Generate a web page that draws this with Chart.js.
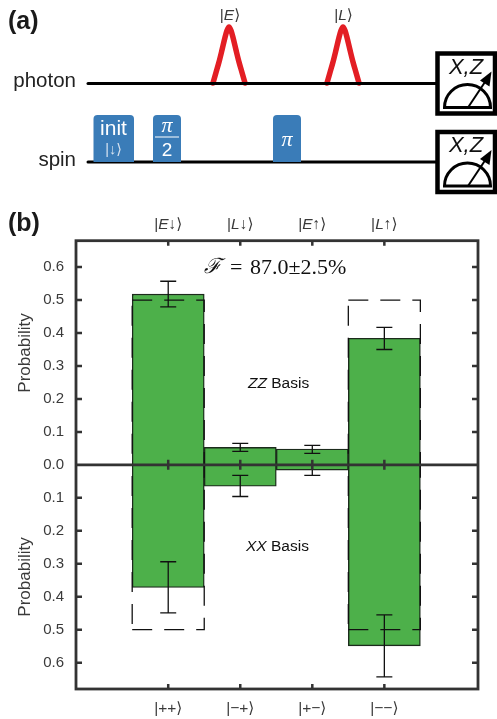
<!DOCTYPE html>
<html lang="en">
<head>
  <meta charset="UTF-8">
  <title>Spin-photon state probabilities</title>
  <script src="https://cdn.jsdelivr.net/npm/chart.js"></script>
  <style>
    html, body { margin: 0; padding: 0; background: #fff; overflow: hidden; }
    canvas { position: absolute; left: 0; display: block; }
    #panelA { top: 0; }
    #panelB { top: 210px; }
  </style>
</head>
<body>
<canvas id="panelA" width="497" height="210"></canvas>
<canvas id="panelB" width="497" height="509"></canvas>

<script>
  const sans = '"Liberation Sans", "DejaVu Sans", sans-serif';
  const serif = '"Liberation Serif", "DejaVu Serif", serif';

  // panel (b) values
  const positions = [1, 2, 3, 4];
  const topLabels = [['|', 'E', '↓⟩'], ['|', 'L', '↓⟩'], ['|', 'E', '↑⟩'], ['|', 'L', '↑⟩']];
  const bottomLabels = ['|++⟩', '|−+⟩', '|+−⟩', '|−−⟩'];
  const yTicks = [-0.6, -0.5, -0.4, -0.3, -0.2, -0.1, 0, 0.1, 0.2, 0.3, 0.4, 0.5, 0.6];
  const zzValues = [0.518, 0.053, 0.048, 0.384];
  const zzErrHigh = [0.557, 0.065, 0.059, 0.417];
  const zzErrLow = [0.479, 0.041, 0.035, 0.350];
  const zzIdeal = [0.5, 0, 0, 0.5];
  const xxValues = [0.372, 0.065, 0.016, 0.549];
  const xxErrHigh = [0.449, 0.096, 0.032, 0.643];
  const xxErrLow = [0.294, 0.032, 0.000, 0.455];
  const xxIdeal = [0.5, 0, 0, 0.5];

  // panel (a) sequence, axes are just the picture's own units
  const wireYs = [83.5, 162];
  const wireStart = 88;
  const wireEnd = 437;
  const pulseEx = [213, 216, 219, 222, 225, 227, 229, 231, 233, 236, 239, 242, 245];
  const pulseLx = [327, 330, 333, 336, 339, 341, 343, 345, 347, 350, 353, 356, 359];
  const pulseY = [83, 72.5, 62, 50, 37.5, 30.5, 27, 30.5, 37.5, 50, 62, 72.5, 83];
  const gateLeft = [93.5, 153, 273];
  const gateRight = [134, 181, 301];
  const gateTop = 115;
  const meterTop = [53.5, 132];

  function drawRuns(ctx, runs, cx, y, size, color) {
    const fonts = runs.map((r, i) => (i === 1 ? 'italic ' : '') + size + 'px ' + sans);
    let total = 0;
    runs.forEach((r, i) => { ctx.font = fonts[i]; total += ctx.measureText(r).width; });
    let x = cx - total / 2;
    ctx.fillStyle = color;
    ctx.textAlign = 'left';
    ctx.textBaseline = 'middle';
    runs.forEach((r, i) => {
      ctx.font = fonts[i];
      ctx.fillText(r, x, y);
      x += ctx.measureText(r).width;
    });
  }

  function text(ctx, str, x, y, font, color, align) {
    ctx.font = font;
    ctx.fillStyle = color || '#000';
    ctx.textAlign = align || 'center';
    ctx.textBaseline = 'middle';
    ctx.fillText(str, x, y);
  }

  const sequencePlugin = {
    id: 'sequence',
    afterDatasetsDraw(chart) {
      const ctx = chart.ctx;
      const sx = v => chart.scales.x.getPixelForValue(v);
      const sy = v => chart.scales.y.getPixelForValue(v);
      ctx.save();

      text(ctx, '(a)', 8, 22, 'bold 25px ' + sans, '#1a1a1a', 'left');
      text(ctx, 'photon', 76, 81, '20.5px ' + sans, '#222', 'right');
      text(ctx, 'spin', 76, 160, '20.5px ' + sans, '#222', 'right');
      drawRuns(ctx, ['|', 'E', '⟩'], sx(230), sy(15.5), 15.5, '#3a3a3a');
      drawRuns(ctx, ['|', 'L', '⟩'], sx(343.5), sy(15.5), 15.5, '#3a3a3a');

      // gates
      gateLeft.forEach((l, i) => {
        ctx.fillStyle = '#3a7cb8';
        ctx.beginPath();
        ctx.roundRect(sx(l), sy(gateTop), sx(gateRight[i]) - sx(l), sy(wireYs[1]) - sy(gateTop), [4, 4, 0, 0]);
        ctx.fill();
      });
      text(ctx, 'init', 113.5, 129, '21px ' + sans, '#fff');
      text(ctx, '|↓⟩', 113.5, 150, '14.5px ' + sans, '#d5e2ef');
      text(ctx, 'π', 167, 126.5, 'italic 22px ' + serif, '#fff');
      ctx.fillStyle = '#fff';
      ctx.fillRect(155, 136.5, 24, 1);
      text(ctx, '2', 167, 151, '19px ' + sans, '#fff');
      text(ctx, 'π', 287, 140, 'italic 22px ' + serif, '#fff');

      // measurement boxes
      meterTop.forEach(t => {
        ctx.fillStyle = '#fff';
        ctx.strokeStyle = '#000';
        ctx.lineWidth = 4.5;
        ctx.fillRect(437.5, t, 57.5, 60);
        ctx.strokeRect(437.5, t, 57.5, 60);
        text(ctx, 'X,Z', 466, t + 14, 'italic 22px ' + sans, '#111');
        ctx.lineWidth = 3;
        ctx.beginPath();
        ctx.arc(467.5, t + 54, 23, Math.PI, 0);
        ctx.closePath();
        ctx.stroke();
        ctx.lineWidth = 2;
        ctx.beginPath();
        ctx.moveTo(468, t + 54);
        ctx.lineTo(486, t + 27);
        ctx.stroke();
        ctx.fillStyle = '#000';
        ctx.beginPath();
        ctx.moveTo(491.5, t + 18);
        ctx.lineTo(480, t + 27);
        ctx.lineTo(489.5, t + 33);
        ctx.closePath();
        ctx.fill();
      });
      ctx.restore();
    }
  };

  const lineStyle = { pointRadius: 0, fill: false, showLine: true };

  new Chart(document.getElementById('panelA'), {
    type: 'line',
    data: {
      datasets: [
        ...wireYs.map(y => ({ ...lineStyle, data: [{ x: wireStart, y }, { x: wireEnd, y }], borderColor: '#000', borderWidth: 3, borderCapStyle: 'round' })),
        ...[pulseEx, pulseLx].map(xs => ({
          ...lineStyle,
          data: xs.map((x, i) => ({ x, y: pulseY[i] })),
          borderColor: '#e31e24', borderWidth: 5.5, cubicInterpolationMode: 'monotone', borderCapStyle: 'round', borderJoinStyle: 'round'
        }))
      ]
    },
    options: {
      responsive: false,
      animation: false,
      events: [],
      layout: { padding: 0 },
      plugins: { legend: { display: false }, tooltip: { enabled: false } },
      scales: {
        x: { type: 'linear', display: false, min: 0, max: 497 },
        y: { type: 'linear', display: false, min: 0, max: 210, reverse: true }
      }
    },
    plugins: [sequencePlugin]
  });

  // ideal outline as a closed box, sign +1 above the zero line and -1 below
  function idealOutline(values, sign) {
    const pts = [];
    values.forEach((v, i) => {
      if (!v) return;
      const l = positions[i] - 0.5, r = positions[i] + 0.5;
      pts.push({ x: l, y: sign * v }, { x: r, y: sign * v }, { x: r, y: 0 }, { x: l, y: 0 }, { x: l, y: sign * v });
      pts.push({ x: r, y: null });
    });
    return pts;
  }

  const framePlugin = {
    id: 'frame',
    afterDatasetsDraw(chart) {
      const ctx = chart.ctx;
      const { left, right, top, bottom } = chart.chartArea;
      const x = chart.scales.x, y = chart.scales.y;
      const dark = '#333';
      ctx.save();

      // error bars
      ctx.strokeStyle = '#111';
      ctx.lineWidth = 1.3;
      const errs = (high, low, sign) => positions.forEach((p, i) => {
        const px = x.getPixelForValue(p);
        const y1 = y.getPixelForValue(sign * high[i]);
        const y2 = y.getPixelForValue(sign * low[i]);
        ctx.beginPath();
        ctx.moveTo(px, y1); ctx.lineTo(px, y2);
        ctx.moveTo(px - 8, y1); ctx.lineTo(px + 8, y1);
        ctx.moveTo(px - 8, y2); ctx.lineTo(px + 8, y2);
        ctx.stroke();
      });
      errs(zzErrHigh, zzErrLow, 1);
      errs(xxErrHigh, xxErrLow, -1);

      // inward ticks on all four sides, crossing ticks on the zero line
      ctx.strokeStyle = dark;
      ctx.lineWidth = 2.5;
      const zero = y.getPixelForValue(0);
      ctx.beginPath();
      yTicks.forEach(v => {
        if (v === 0) return;
        const py = y.getPixelForValue(v);
        ctx.moveTo(left, py); ctx.lineTo(left + 6, py);
        ctx.moveTo(right, py); ctx.lineTo(right - 6, py);
      });
      positions.forEach(p => {
        const px = x.getPixelForValue(p);
        ctx.moveTo(px, top); ctx.lineTo(px, top + 5);
        ctx.moveTo(px, bottom); ctx.lineTo(px, bottom - 5);
        ctx.moveTo(px, zero - 5); ctx.lineTo(px, zero + 5);
      });
      ctx.stroke();

      ctx.lineWidth = 2.8;
      ctx.strokeRect(left, top, right - left, bottom - top);
      ctx.beginPath();
      ctx.moveTo(left, zero); ctx.lineTo(right, zero);
      ctx.stroke();

      // labels that a tick can't do: mixed italic and the second axis title
      text(ctx, '(b)', 8, 14, 'bold 25px ' + sans, '#1a1a1a', 'left');
      topLabels.forEach((runs, i) => drawRuns(ctx, runs, x.getPixelForValue(positions[i]), 15, 15.5, '#3a3a3a'));
      [143, 367].forEach(cy => {
        ctx.save();
        ctx.translate(25, cy);
        ctx.rotate(-Math.PI / 2);
        text(ctx, 'Probability', 0, 0, '17px ' + sans, '#3a3a3a');
        ctx.restore();
      });
      text(ctx, 'ℱ', 212, 58, 'italic 21px "DejaVu Serif", serif', '#111');
      text(ctx, '=', 230, 58, '22px ' + serif, '#111', 'left');
      text(ctx, '87.0±2.5%', 250, 58, '22px ' + serif, '#111', 'left');
      ctx.fillStyle = '#111';
      ctx.textAlign = 'left';
      ctx.textBaseline = 'middle';
      [['ZZ', 248, 174], ['XX', 246, 337]].forEach(([s, bx, by]) => {
        ctx.font = 'italic 15.5px ' + sans;
        ctx.fillText(s, bx, by);
        const w = ctx.measureText(s + ' ').width;
        ctx.font = '15.5px ' + sans;
        ctx.fillText('Basis', bx + w, by);
      });
      ctx.restore();
    }
  };

  const outlineStyle = { type: 'line', ...lineStyle, spanGaps: false, borderColor: '#111', borderWidth: 1.3, borderDash: [20, 12], order: 0 };
  const barStyle = { backgroundColor: '#4db04a', borderColor: '#1c2b1c', borderWidth: 1.4, barPercentage: 1, categoryPercentage: 1, grouped: false, order: 1 };

  new Chart(document.getElementById('panelB'), {
    type: 'bar',
    data: {
      datasets: [
        { ...barStyle, data: positions.map((x, i) => ({ x, y: zzValues[i] })) },
        { ...barStyle, data: positions.map((x, i) => ({ x, y: -xxValues[i] })) },
        { ...outlineStyle, data: idealOutline(zzIdeal, 1) },
        { ...outlineStyle, data: idealOutline(xxIdeal, -1) }
      ]
    },
    options: {
      responsive: false,
      animation: false,
      events: [],
      layout: { padding: { right: 19 } },
      plugins: { legend: { display: false }, tooltip: { enabled: false } },
      scales: {
        x: {
          type: 'linear', position: 'bottom', offset: false, min: -0.28, max: 5.3,
          grid: { display: false, drawTicks: false }, border: { display: false },
          afterBuildTicks: s => { s.ticks = positions.map(value => ({ value })); },
          afterFit: s => { s.height = 30; },
          ticks: {
            autoSkip: false, maxRotation: 0, padding: 10,
            color: '#3a3a3a', font: { family: sans, size: 15.5 },
            callback: v => bottomLabels[positions.indexOf(v)]
          }
        },
        xTop: {
          type: 'linear', position: 'top', offset: false, min: -0.28, max: 5.3,
          grid: { display: false, drawTicks: false }, border: { display: false },
          ticks: { display: false },
          afterFit: s => { s.height = 30.7; }
        },
        y: {
          type: 'linear', min: -0.68, max: 0.68,
          grid: { display: false, drawTicks: false }, border: { display: false },
          afterBuildTicks: s => { s.ticks = yTicks.map(value => ({ value })); },
          afterFit: s => { s.width = 76; },
          ticks: {
            autoSkip: false, padding: 12,
            color: '#3a3a3a', font: { family: sans, size: 15 },
            callback: v => Math.abs(v).toFixed(1)
          }
        }
      }
    },
    plugins: [framePlugin]
  });
</script>
</body>
</html>
